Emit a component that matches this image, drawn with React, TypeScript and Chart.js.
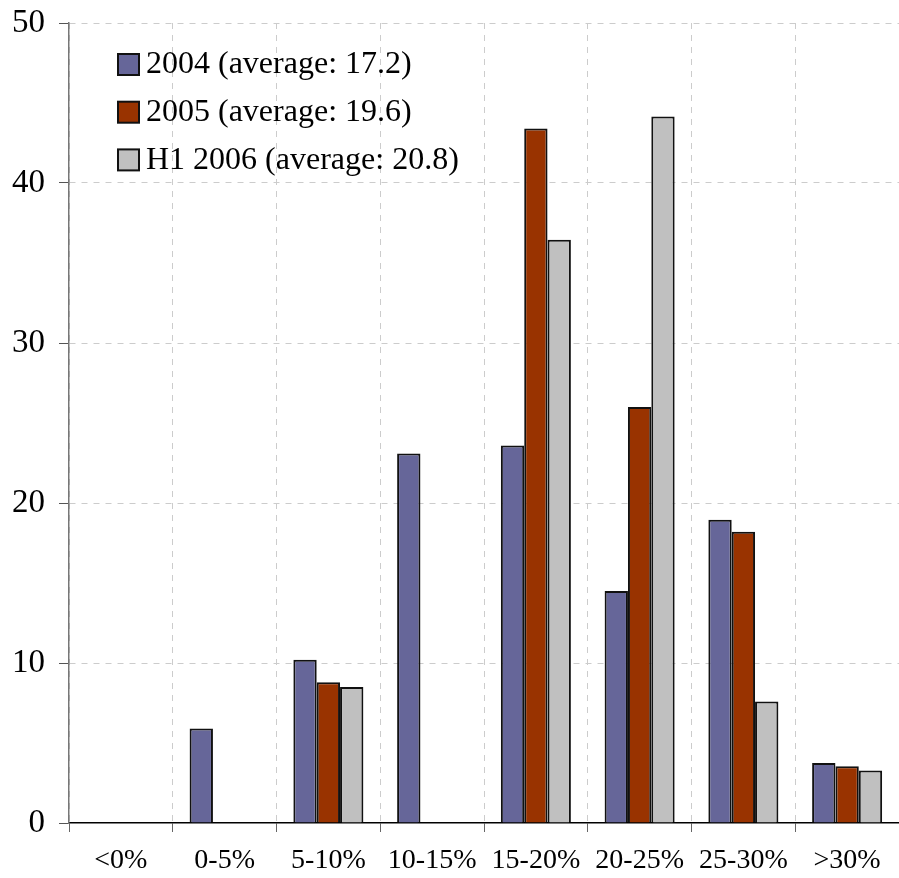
import React, { useEffect, useRef } from "react";
import { Chart, registerables } from "chart.js";

Chart.register(...registerables);

const categories = ["<0%", "0-5%", "5-10%", "10-15%", "15-20%", "20-25%", "25-30%", ">30%"];
const labels = ["2004 (average: 17.2)", "2005 (average: 19.6)", "H1 2006 (average: 20.8)"];
const values2004 = [0, 5.9, 10.2, 23.1, 23.6, 14.5, 18.95, 3.75];
const values2005 = [0, 0, 8.8, 0, 43.4, 26.0, 18.2, 3.55];
const valuesH12006 = [0, 0, 8.5, 0, 36.45, 44.15, 7.6, 3.28];
const colors = ["#666699", "#993300", "#C0C0C0"];
const yTicks = [0, 10, 20, 30, 40, 50];

const FONT = "'Liberation Serif', 'Times New Roman', serif";

const legendPlugin = {
  id: "insideLegend",
  afterDraw(chart: any) {
    const ctx = chart.ctx;
    ctx.save();
    ctx.font = `32px ${FONT}`;
    ctx.textBaseline = "middle";
    ctx.textAlign = "left";
    chart.data.datasets.forEach((ds: any, i: number) => {
      const cy = 64 + i * 47.7;
      ctx.fillStyle = ds.backgroundColor;
      ctx.fillRect(118, cy - 10, 21, 21);
      ctx.lineWidth = 2;
      ctx.strokeStyle = "#111";
      ctx.strokeRect(118, cy - 10, 21, 21);
      ctx.fillStyle = "#000";
      ctx.fillText(ds.label, 146, cy + 1);
    });
    ctx.restore();
  },
};

export default function App() {
  const ref = useRef<HTMLCanvasElement>(null);
  useEffect(() => {
    const series = [values2004, values2005, valuesH12006];
    const chart = new Chart(ref.current!, {
      type: "bar",
      data: {
        labels: categories,
        datasets: series.map((d, i) => ({
          label: labels[i],
          data: d.map((v) => (v === 0 ? null : v)),
          backgroundColor: colors[i],
          borderColor: "#111",
          borderWidth: 2,
          categoryPercentage: 0.675,
          barPercentage: 1,
        })),
      },
      options: {
        animation: false,
        responsive: false,
        maintainAspectRatio: false,
        layout: { padding: { top: 23, right: 0, bottom: 0, left: 0 } },
        plugins: { legend: { display: false }, tooltip: { enabled: false } },
        scales: {
          x: {
            offset: true,
            afterFit: (s: any) => {
              s.height = 55;
              s.paddingLeft = 0;
              s.paddingRight = 0;
            },
            grid: {
              offset: true,
              color: "#cccccc",
              lineWidth: 1,
              tickLength: 9,
              tickColor: "#666666",
              tickBorderDash: [],
            },
            border: { color: "#000", width: 1.5, dash: [6, 6] },
            ticks: {
              color: "#000",
              font: { family: FONT, size: 28 },
              padding: 12,
              maxRotation: 0,
              autoSkip: false,
            },
          },
          y: {
            min: 0,
            max: 50,
            afterFit: (s: any) => {
              s.width = 69;
              s.paddingTop = 0;
              s.paddingBottom = 0;
            },
            afterBuildTicks: (s: any) => { s.ticks = yTicks.map((v) => ({ value: v })); },
            grid: {
              color: (c: any) => (c.tick && c.tick.value === 0 ? "rgba(0,0,0,0)" : "#cccccc"),
              lineWidth: 1,
              tickLength: 10,
              tickColor: "#555555",
              tickBorderDash: [],
            },
            border: { color: "#777777", width: 1.5, dash: [6, 6] },
            ticks: {
              color: "#000",
              font: { family: FONT, size: 33 },
              padding: 14,
            },
          },
        },
      },
      plugins: [legendPlugin],
    });
    return () => chart.destroy();
  }, []);
  return (
    <div style={{ position: "fixed", left: 0, top: 0, width: 899, height: 878, background: "#fff" }}>
      <canvas ref={ref} width={899} height={878} style={{ width: 899, height: 878, display: "block" }} />
    </div>
  );
}
